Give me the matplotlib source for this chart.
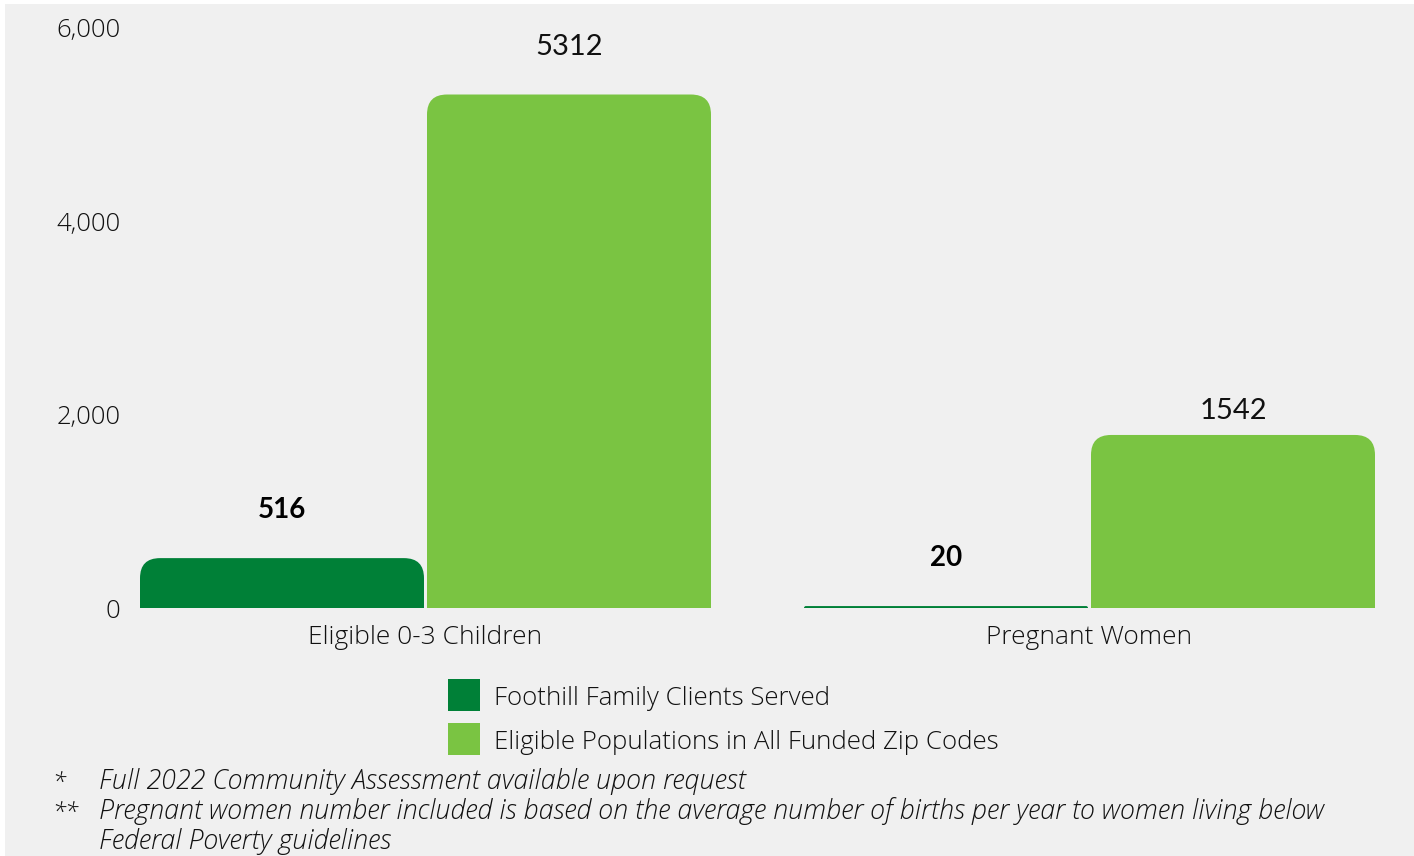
import matplotlib.pyplot as plt
from matplotlib.patches import FancyBboxPatch, Rectangle

# data
categories = ["Eligible 0-3 Children", "Pregnant Women"]
series_names = ["Foothill Family Clients Served",
                "Eligible Populations in All Funded Zip Codes"]
# drawn bar heights (the 1542 bar is drawn taller in the source)
served_heights = [516, 20]
eligible_heights = [5312, 1790]
# printed labels
served_labels = [516, 20]
eligible_labels = [5312, 1542]
y_ticks = [0, 2000, 4000, 6000]
footnotes = [
    ("*", "Full 2022 Community Assessment available upon request"),
    ("**", "Pregnant women number included is based on the average number of births per year to women living below"),
    ("", "Federal Poverty guidelines"),
]

dark_green = "#008037"
light_green = "#7ac442"
bg = "#f0f0f0"
txt_col = "#111111"

plt.rcParams['font.family'] = ['Open Sans', 'Lato', 'DejaVu Sans']
plt.rcParams['font.weight'] = 'light'

W, H = 1414, 856
fig = plt.figure(figsize=(W / 100, H / 100), dpi=100, facecolor="white")
fig.patches.append(Rectangle((5 / W, 0), 1, 1 - 4 / H, transform=fig.transFigure,
                             facecolor=bg, edgecolor="none", zorder=-10))

# axes placed in pixel terms
ax_left, ax_right, ax_bottom, ax_top = 130, 1400, 608, 28
ax = fig.add_axes([ax_left / W, 1 - ax_bottom / H,
                   (ax_right - ax_left) / W, (ax_bottom - ax_top) / H])
ax.set_facecolor("none")

px_per_unit = 664.0
bar_w = 284 / px_per_unit
offset = 287 / px_per_unit / 2
x0 = -offset - bar_w / 2 - 10 / px_per_unit
ax.set_xlim(x0, x0 + (ax_right - ax_left) / px_per_unit)
ax.set_ylim(0, 6000)

xs = list(range(len(categories)))
b1 = ax.bar([x - offset for x in xs], served_heights, width=bar_w, color=dark_green)
b2 = ax.bar([x + offset for x in xs], eligible_heights, width=bar_w, color=light_green)

# swap the plain rectangles for ones with rounded top corners
y_per_px = 6000 / (ax_bottom - ax_top)
aspect = y_per_px * px_per_unit
for bars, col in [(b1, dark_green), (b2, light_green)]:
    for rect in bars:
        h = rect.get_height()
        r_px = min(20, h / y_per_px)
        r = r_px / px_per_unit
        ry = r_px * y_per_px
        patch = FancyBboxPatch((rect.get_x(), -ry), rect.get_width(), h + ry,
                               boxstyle=f"round,pad=0,rounding_size={r}",
                               mutation_aspect=aspect, facecolor=col,
                               edgecolor="none", clip_on=True)
        ax.add_patch(patch)
        rect.set_visible(False)

# value labels, ~48px above the value they state
lab_off = 48 * y_per_px
for x, v in zip(xs, served_labels):
    ax.text(x - offset, v + lab_off, f"{v}", ha="center", va="center",
            fontsize=20, fontweight="bold", color="black", family="Lato")
for x, v in zip(xs, eligible_labels):
    ax.text(x + offset, v + lab_off, f"{v}", ha="center", va="center",
            fontsize=21, color=txt_col, family="Lato", fontweight="normal")

ax.set_yticks(y_ticks)
ax.set_yticklabels([f"{t:,}" for t in y_ticks], fontsize=18.5, color=txt_col)
ax.tick_params(axis="y", length=0, pad=7)
ax.set_xticks(xs)
ax.set_xticklabels(categories, fontsize=19, color=txt_col)
ax.tick_params(axis="x", length=0, pad=12)
for s in ax.spines.values():
    s.set_visible(False)

# legend drawn by hand to match placement
for i, (name, col) in enumerate(zip(series_names, [dark_green, light_green])):
    yc = 695 + i * 44
    fig.patches.append(Rectangle((448 / W, 1 - (yc + 16) / H), 32 / W, 32 / H,
                                 transform=fig.transFigure, facecolor=col,
                                 edgecolor="none"))
    fig.text(494 / W, 1 - (yc + 10) / H, name, ha="left", va="baseline",
             fontsize=18.6, color=txt_col)

# footnotes
for i, (mark, txt) in enumerate(footnotes):
    yb = 789 + i * 30
    if mark:
        fig.text(52 / W, 1 - yb / H, mark, ha="left", va="baseline",
                 fontsize=17, style="italic", color=txt_col)
    fig.text(99 / W, 1 - yb / H, txt, ha="left", va="baseline",
             fontsize=19.4, style="italic", color=txt_col)

fig.savefig("out.png", dpi=100, facecolor=fig.get_facecolor())
